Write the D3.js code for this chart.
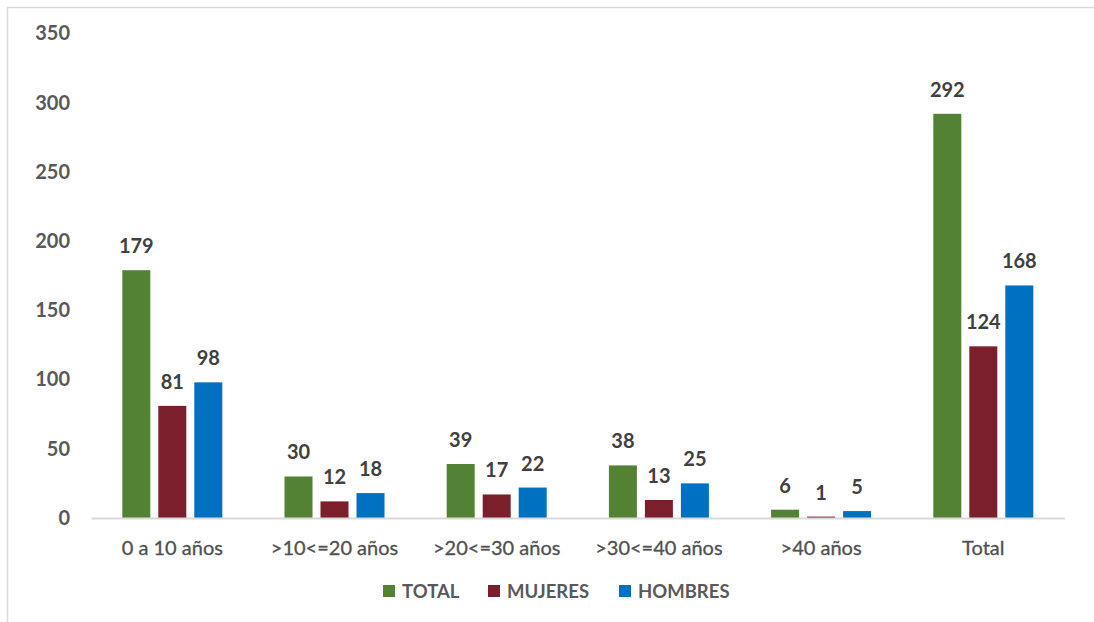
<!DOCTYPE html>
<html>
<head>
<meta charset="utf-8">
<script src="https://cdn.jsdelivr.net/npm/d3@7"></script>
<style>
  html, body { margin: 0; padding: 0; background: #ffffff; }
  svg { display: block; font-family: Lato, "Open Sans", sans-serif; }
</style>
</head>
<body>
<svg id="chart" width="1094" height="622"></svg>
<script>
// Age groups (years of service) and counts per series
const categories = ["0 a 10 años", ">10<=20 años", ">20<=30 años", ">30<=40 años", ">40 años", "Total"];
const seriesNames = ["TOTAL", "MUJERES", "HOMBRES"];
const totalValues   = [179, 30, 39, 38, 6, 292];
const mujeresValues = [81, 12, 17, 13, 1, 124];
const hombresValues = [98, 18, 22, 25, 5, 168];
const yTicks = [0, 50, 100, 150, 200, 250, 300, 350];
const colors = ["#548235", "#7a1f2b", "#0070c0"];

const seriesValues = [totalValues, mujeresValues, hombresValues];
const rows = categories.map((c, i) => ({
  category: c,
  values: seriesNames.map((s, j) => ({ series: s, value: seriesValues[j][i] }))
}));

const svg = d3.select("#chart");

// chart frame
svg.append("path")
  .attr("d", "M7.5,622 L7.5,7.5 L1094,7.5")
  .attr("fill", "none")
  .attr("stroke", "#d9d9d9")
  .attr("stroke-width", 1.5);

const plot = { left: 91.2, right: 1064.4, top: 33.5, bottom: 518 };

const x0 = d3.scaleBand().domain(categories).range([plot.left, plot.right]).padding(0);
const x1 = d3.scaleBand().domain(seriesNames).range([0, 100]).paddingInner(8 / 36).paddingOuter(0);
const y = d3.scaleLinear().domain([0, 350]).range([plot.bottom, plot.top]);
const color = d3.scaleOrdinal().domain(seriesNames).range(colors);

// y axis labels (no line, no ticks)
const yAxis = svg.append("g")
  .attr("transform", `translate(70,0)`)
  .call(d3.axisLeft(y).tickValues(yTicks).tickSize(0).tickPadding(0));
yAxis.select(".domain").remove();
yAxis.selectAll("text")
  .attr("font-family", "Lato, sans-serif")
  .attr("font-size", 20)
  .attr("font-weight", "bold")
  .attr("fill", "#595959");

// bars
const groups = svg.append("g").selectAll("g")
  .data(rows)
  .join("g")
  .attr("transform", d => `translate(${x0(d.category) + x0.bandwidth() / 2 - 50},0)`);

groups.selectAll("rect")
  .data(d => d.values)
  .join("rect")
  .attr("x", d => x1(d.series))
  .attr("y", d => y(d.value))
  .attr("width", x1.bandwidth())
  .attr("height", d => y(0) - y(d.value))
  .attr("fill", d => color(d.series));

// value labels
groups.selectAll("text")
  .data(d => d.values)
  .join("text")
  .attr("x", d => x1(d.series) + x1.bandwidth() / 2)
  .attr("y", d => y(d.value) - 17)
  .attr("text-anchor", "middle")
  .attr("font-size", 20)
  .attr("font-weight", "bold")
  .attr("fill", "#404040")
  .text(d => d.value);

// x axis baseline (drawn over the bar bases) and category labels
const xAxis = svg.append("g")
  .attr("transform", `translate(0,${plot.bottom})`)
  .call(d3.axisBottom(x0).tickSize(0).tickPadding(0));
xAxis.select(".domain")
  .attr("stroke", "#d9d9d9")
  .attr("stroke-width", 2);
xAxis.selectAll("text")
  .attr("font-family", "Lato, sans-serif")
  .attr("font-size", 20)
  .attr("fill", "#505050")
  .attr("stroke", "#505050")
  .attr("stroke-width", 0.3)
  .attr("dy", null)
  .attr("y", 37);

// legend
const legendItems = [
  { name: "TOTAL", x: 383 },
  { name: "MUJERES", x: 488 },
  { name: "HOMBRES", x: 619 }
];
const legend = svg.append("g").selectAll("g")
  .data(legendItems)
  .join("g")
  .attr("transform", d => `translate(${d.x},0)`);
legend.append("rect")
  .attr("x", 0).attr("y", 585)
  .attr("width", 12).attr("height", 12)
  .attr("fill", d => color(d.name));
legend.append("text")
  .attr("x", 19).attr("y", 598)
  .attr("font-size", 18.5)
  .attr("font-weight", "bold")
  .attr("fill", "#595959")
  .text(d => d.name);
</script>
</body>
</html>
